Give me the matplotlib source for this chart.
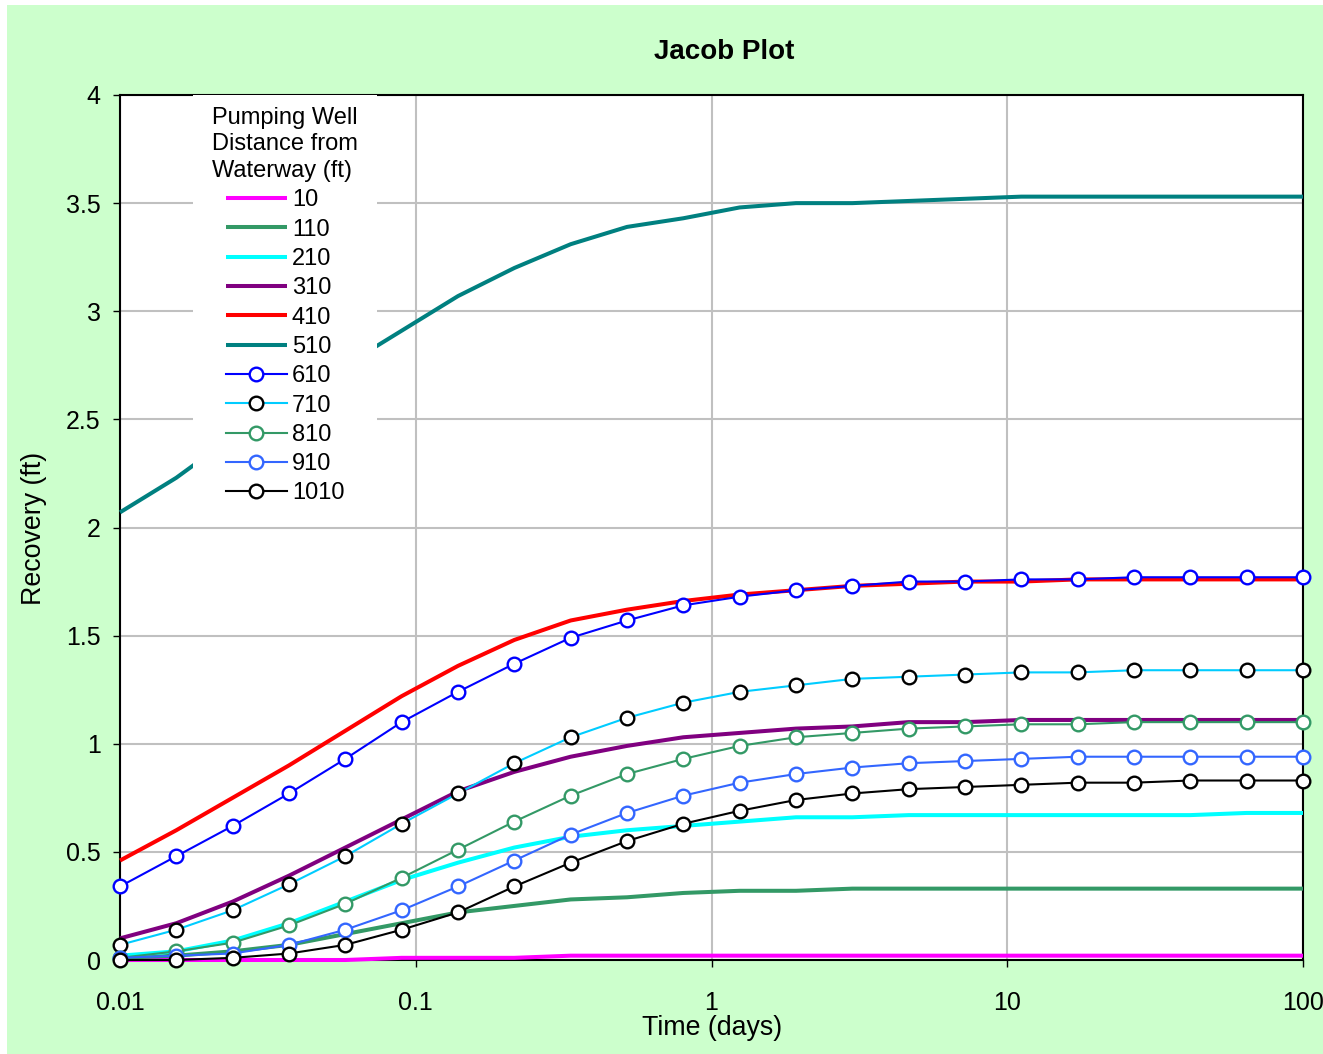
import matplotlib
matplotlib.use('Agg')
import matplotlib.pyplot as plt
from matplotlib.patches import Rectangle

plt.rcParams['font.family'] = ['Liberation Sans', 'DejaVu Sans']

# Elapsed time since pumping stopped (days), log spaced
time_days = [0.01, 0.0155, 0.02404, 0.03728, 0.0578, 0.0896, 0.1389, 0.2154,
             0.334, 0.5179, 0.8031, 1.245, 1.931, 2.994, 4.642, 7.197,
             11.16, 17.3, 26.83, 41.59, 64.49, 100.0]

# Recovery (ft) for each pumping well distance from the waterway (ft)
rec_10 = [0.00, 0.00, 0.00, 0.00, 0.00, 0.01, 0.01, 0.01, 0.02, 0.02, 0.02,
          0.02, 0.02, 0.02, 0.02, 0.02, 0.02, 0.02, 0.02, 0.02, 0.02, 0.02]
rec_110 = [0.01, 0.02, 0.04, 0.07, 0.12, 0.17, 0.22, 0.25, 0.28, 0.29, 0.31,
           0.32, 0.32, 0.33, 0.33, 0.33, 0.33, 0.33, 0.33, 0.33, 0.33, 0.33]
rec_210 = [0.02, 0.04, 0.09, 0.17, 0.27, 0.37, 0.45, 0.52, 0.57, 0.60, 0.62,
           0.64, 0.66, 0.66, 0.67, 0.67, 0.67, 0.67, 0.67, 0.67, 0.68, 0.68]
rec_310 = [0.10, 0.17, 0.27, 0.39, 0.52, 0.65, 0.78, 0.87, 0.94, 0.99, 1.03,
           1.05, 1.07, 1.08, 1.10, 1.10, 1.11, 1.11, 1.11, 1.11, 1.11, 1.11]
rec_410 = [0.46, 0.60, 0.75, 0.90, 1.06, 1.22, 1.36, 1.48, 1.57, 1.62, 1.66,
           1.69, 1.71, 1.73, 1.74, 1.75, 1.75, 1.76, 1.76, 1.76, 1.76, 1.76]
rec_510 = [2.07, 2.23, 2.42, 2.58, 2.75, 2.91, 3.07, 3.20, 3.31, 3.39, 3.43,
           3.48, 3.50, 3.50, 3.51, 3.52, 3.53, 3.53, 3.53, 3.53, 3.53, 3.53]
rec_610 = [0.34, 0.48, 0.62, 0.77, 0.93, 1.10, 1.24, 1.37, 1.49, 1.57, 1.64,
           1.68, 1.71, 1.73, 1.75, 1.75, 1.76, 1.76, 1.77, 1.77, 1.77, 1.77]
rec_710 = [0.07, 0.14, 0.23, 0.35, 0.48, 0.63, 0.77, 0.91, 1.03, 1.12, 1.19,
           1.24, 1.27, 1.30, 1.31, 1.32, 1.33, 1.33, 1.34, 1.34, 1.34, 1.34]
rec_810 = [0.01, 0.04, 0.08, 0.16, 0.26, 0.38, 0.51, 0.64, 0.76, 0.86, 0.93,
           0.99, 1.03, 1.05, 1.07, 1.08, 1.09, 1.09, 1.10, 1.10, 1.10, 1.10]
rec_910 = [0.01, 0.02, 0.03, 0.07, 0.14, 0.23, 0.34, 0.46, 0.58, 0.68, 0.76,
           0.82, 0.86, 0.89, 0.91, 0.92, 0.93, 0.94, 0.94, 0.94, 0.94, 0.94]
rec_1010 = [0.00, 0.00, 0.01, 0.03, 0.07, 0.14, 0.22, 0.34, 0.45, 0.55, 0.63,
            0.69, 0.74, 0.77, 0.79, 0.80, 0.81, 0.82, 0.82, 0.83, 0.83, 0.83]

x_ticks = [0.01, 0.1, 1, 10, 100]
x_tick_labels = ['0.01', '0.1', '1', '10', '100']
y_ticks = [0, 0.5, 1, 1.5, 2, 2.5, 3, 3.5, 4]
y_tick_labels = ['0', '0.5', '1', '1.5', '2', '2.5', '3', '3.5', '4']

# (label, values, line colour, marker edge colour or None)
series = [
    ('10', rec_10, '#FF00FF', None),
    ('110', rec_110, '#339966', None),
    ('210', rec_210, '#00FFFF', None),
    ('310', rec_310, '#800080', None),
    ('410', rec_410, '#FF0000', None),
    ('510', rec_510, '#008080', None),
    ('610', rec_610, '#0000FF', '#0000FF'),
    ('710', rec_710, '#00CCFF', '#000000'),
    ('810', rec_810, '#339966', '#339966'),
    ('910', rec_910, '#3366FF', '#3366FF'),
    ('1010', rec_1010, '#000000', '#000000'),
]

fig = plt.figure(figsize=(13.23, 10.54), dpi=100, facecolor='white')
fig.patches.append(Rectangle((7 / 1323, 0), 1, 1 - 5 / 1054, transform=fig.transFigure,
                             facecolor='#CCFFCC', edgecolor='none', zorder=-10))

ax = fig.add_axes([120 / 1323, 1 - 960 / 1054, 1183 / 1323, 865 / 1054])
ax.set_facecolor('white')

for label, vals, color, medge in series:
    if medge is None:
        ax.plot(time_days, vals, color=color, linewidth=2.9, label=label,
                solid_capstyle='butt', clip_on=False, zorder=3)
    else:
        ax.plot(time_days, vals, color=color, linewidth=1.5, marker='o',
                markersize=9.8, markerfacecolor='white', markeredgecolor=medge,
                markeredgewidth=1.7, label=label, clip_on=False, zorder=4)

ax.set_xscale('log')
ax.set_xlim(0.01, 100)
ax.set_ylim(0, 4)
ax.set_xticks(x_ticks)
ax.set_xticklabels(x_tick_labels)
ax.set_yticks(y_ticks)
ax.set_yticklabels(y_tick_labels)
ax.minorticks_off()
ax.tick_params(axis='both', direction='out', length=5, width=1, labelsize=18, color='black')
ax.tick_params(axis='y', pad=9)
ax.tick_params(axis='x', pad=17)

ax.grid(True, color='#C0C0C0', linewidth=1.5)
ax.set_axisbelow(True)
for spine in ax.spines.values():
    spine.set_color('black')
    spine.set_linewidth(1.5)

# white panel behind the legend, covering the curves underneath
ax.add_patch(Rectangle((73 / 1183, 450 / 865), 184 / 1183, 415 / 865, transform=ax.transAxes,
                       facecolor='white', edgecolor='none', zorder=6, clip_on=False))

leg = ax.legend(title='Pumping Well\nDistance from\nWaterway (ft)', loc='upper center',
                bbox_to_anchor=(165 / 1183, 1.0), borderaxespad=0, fontsize=17,
                title_fontsize=17, frameon=False, handlelength=2.6,
                handletextpad=0.2, labelspacing=0.31, borderpad=0.5,
                numpoints=1, alignment='center')
leg.get_title().set_linespacing(1.27)
leg.set_zorder(10)

fig.text(724 / 1323, 1 - 52 / 1054, 'Jacob Plot', ha='center', va='center',
         fontsize=20, fontweight='bold')
fig.text(712 / 1323, 1 - 1028 / 1054, 'Time (days)', ha='center', va='center', fontsize=19.3)
fig.text(34 / 1323, 1 - 528 / 1054, 'Recovery (ft)', ha='center', va='center',
         rotation=90, fontsize=19.3)

fig.savefig('out.png', dpi=100, facecolor=fig.get_facecolor())
